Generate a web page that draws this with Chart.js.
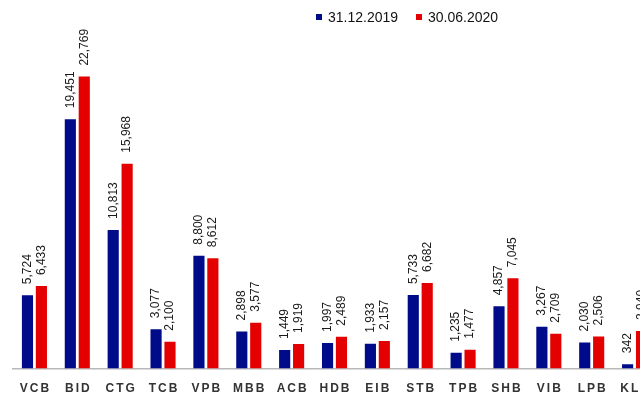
<!DOCTYPE html>
<html>
<head>
<meta charset="utf-8">
<script src="https://cdn.jsdelivr.net/npm/chart.js@4.4.1/dist/chart.umd.min.js"></script>
<style>
  html, body { margin: 0; padding: 0; background: #fff; overflow: hidden; }
  .wrap { position: relative; width: 660px; height: 409px; }
  .legend { position: absolute; top: 9px; left: 316px; font: 14px "Liberation Sans", Arial, sans-serif; color: #111; white-space: nowrap; }
  .legend span.box { display: inline-block; width: 6px; height: 6px; margin-right: 6px; vertical-align: 2px; }
  .legend span.item { margin-right: 14px; }
</style>
</head>
<body>
<div class="wrap">
  <canvas id="chart-1" width="660" height="409"></canvas>
  <div class="legend">
    <span class="item"><span class="box" style="background:#000b8a"></span>31.12.2019</span>
    <span class="item"><span class="box" style="background:#e40000"></span>30.06.2020</span>
  </div>
</div>
<script>
const banks = ['VCB', 'BID', 'CTG', 'TCB', 'VPB', 'MBB', 'ACB', 'HDB', 'EIB', 'STB', 'TPB', 'SHB', 'VIB', 'LPB', 'KLB']
const seriesNames = ['31.12.2019', '30.06.2020']
const values2019 = [5724, 19451, 10813, 3077, 8800, 2898, 1449, 1997, 1933, 5733, 1235, 4857, 3267, 2030, 342]
const values2020 = [6433, 22769, 15968, 2100, 8612, 3577, 1919, 2489, 2157, 6682, 1477, 7045, 2709, 2506, 2940]
const yMax = 26400

const blue = '#000b8a'
const red = '#e40000'

// rotated value labels above each bar
const barLabels = {
    id: 'barLabels',
    beforeDraw: chart => {
        chart.ctx.letterSpacing = '2px'
    },
    beforeDatasetsDraw: chart => {
        chart.ctx.letterSpacing = '0px'
    },
    afterDatasetsDraw: chart => {
        const ctx = chart.ctx
        chart.data.datasets.forEach((ds, i) => {
            const meta = chart.getDatasetMeta(i)
            meta.data.forEach((bar, j) => {
                ctx.save()
                ctx.translate(bar.x, bar.y - 11)
                ctx.rotate(-Math.PI / 2)
                ctx.font = '12px "Liberation Sans", Arial, sans-serif'
                ctx.fillStyle = '#1a1a1a'
                ctx.textAlign = 'left'
                ctx.textBaseline = 'middle'
                ctx.fillText(ds.data[j].toLocaleString('en-US'), 0, 0)
                ctx.restore()
            })
        })
    }
}

const chart1 = new Chart(document.querySelector('#chart-1').getContext('2d'), {
    type: 'bar',
    data: {
        labels: banks,
        datasets: [{
            label: seriesNames[0],
            backgroundColor: blue,
            data: values2019
        }, {
            label: seriesNames[1],
            backgroundColor: red,
            data: values2020
        }]
    },
    options: {
        responsive: false,
        animation: false,
        layout: { padding: { top: 30, left: 13, right: 3, bottom: 0 } },
        datasets: { bar: { categoryPercentage: 0.65, barPercentage: 0.8 } },
        plugins: {
            legend: { display: false },
            tooltip: { enabled: false }
        },
        scales: {
            x: {
                grid: { display: false, drawTicks: false },
                border: { color: '#b8b8b8', width: 1.5 },
                ticks: {
                    padding: 13,
                    labelOffset: 1,
                    color: '#333333',
                    font: { family: '"Liberation Sans", Arial, sans-serif', size: 12, weight: 'bold' }
                }
            },
            y: {
                display: false,
                min: 0,
                max: yMax
            }
        }
    },
    plugins: [barLabels]
})
</script>
</body>
</html>
